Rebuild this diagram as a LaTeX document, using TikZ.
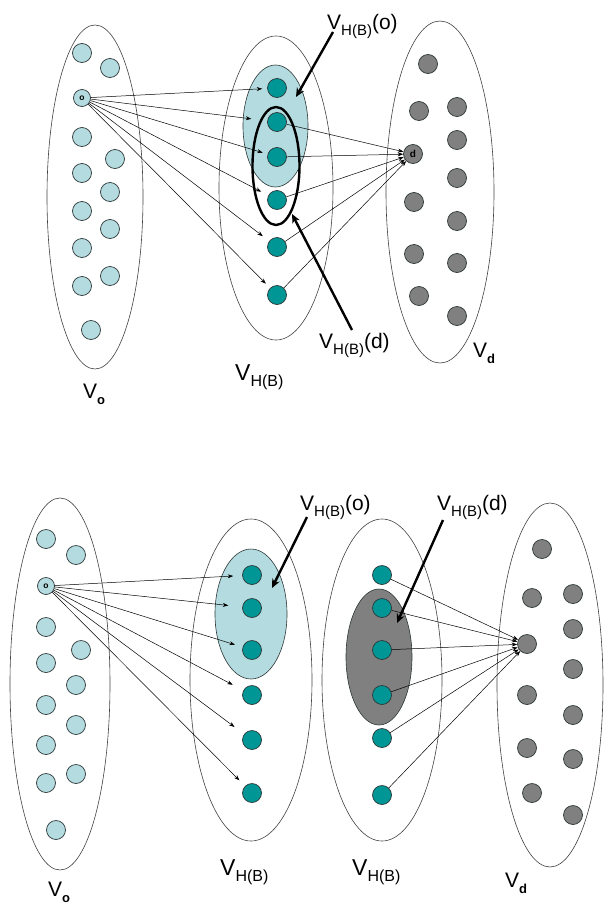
\documentclass[tikz,border=0pt]{standalone}
\usepackage{fontspec}
\setmainfont{Liberation Sans}
\usetikzlibrary{shapes.geometric,arrows.meta}
\definecolor{lb}{RGB}{180,220,224}
\definecolor{tl}{RGB}{0,150,150}
\definecolor{gr}{RGB}{128,128,128}
\definecolor{bd}{RGB}{45,55,55}
\newcommand{\hbsub}[1]{\raisebox{-0.3em}{\fontsize{#1}{#1}\selectfont H(B)}}
\newcommand{\smallsub}[1]{\raisebox{-0.3em}{\fontsize{13}{13}\selectfont\bfseries #1}}
\begin{document}
\begin{tikzpicture}[x=1pt,y=-1pt,
 ell/.style={ellipse,draw=black!75,line width=0.6pt,inner sep=0pt},
 vo/.style={circle,fill=lb,draw=bd,line width=0.7pt,minimum size=19pt,inner sep=0pt},
 vh/.style={vo,fill=tl},
 vd/.style={vo,fill=gr},
 arr/.style={line width=0.5pt,-{Stealth[length=5.5pt,width=4pt]}},
 ptr/.style={line width=2.4pt,-{Stealth[length=9pt,width=8pt]}},
 lab/.style={inner sep=0pt,anchor=base west,font=\fontsize{21}{21}\selectfont},
 labb/.style={lab,font=\fontsize{23}{23}\selectfont},
 tiny/.style={font=\fontsize{8.5}{8.5}\selectfont\bfseries},
]
\useasboundingbox (0,0) rectangle (605,910);
% ================= TOP =================
\node[ell,minimum width=96pt,minimum height=344pt] (VoT) at (95,197) {};
\node[ell,minimum width=114pt,minimum height=304pt] (VhT) at (276,188) {};
\node[ellipse,fill=lb,draw=bd,line width=0.6pt,inner sep=0pt,minimum width=65pt,minimum height=122pt] (LbT) at (275.5,126) {};
\node[ell,minimum width=108pt,minimum height=342pt] (VdT) at (440,192) {};
% Vo nodes
\node[vo] (a1) at (82,53) {};
\node[vo] (a2) at (110,68) {};
\node[vo,minimum size=17pt,tiny] (o) at (82,98) {o};
\node[vo] (a3) at (82,137) {};
\node[vo] (a4) at (115,159) {};
\node[vo] (a5) at (82,173) {};
\node[vo] (a6) at (110,192) {};
\node[vo] (a7) at (82,211) {};
\node[vo] (a8) at (110,229) {};
\node[vo] (a9) at (82,248) {};
\node[vo] (a10) at (110,276) {};
\node[vo] (a11) at (82,286) {};
\node[vo] (a12) at (91,330) {};
% teal nodes
\node[vh] (h1) at (277,88) {};
\node[vh] (h2) at (277,122) {};
\node[vh] (h3) at (277,157) {};
\node[vh] (h4) at (277,200) {};
\node[vh] (h5) at (277,247) {};
\node[vh] (h6) at (277,295) {};
% thick ellipse
\node[ellipse,draw=black,line width=2.4pt,inner sep=0pt,minimum width=47pt,minimum height=118pt] (ThT) at (276,166) {};
% gray nodes
\node[vd] (g1) at (428,64) {};
\node[vd] (g2) at (419,111) {};
\node[vd] (g3) at (457,107) {};
\node[vd,font=\fontsize{10}{10}\selectfont\bfseries] (d) at (413,154) {d};
\node[vd] (g4) at (457,140) {};
\node[vd] (g5) at (457,178) {};
\node[vd] (g6) at (414,202) {};
\node[vd] (g7) at (457,221) {};
\node[vd] (g8) at (414,254) {};
\node[vd] (g9) at (457,263) {};
\node[vd] (g10) at (419,296) {};
\node[vd] (g11) at (457,316) {};
% arrows o -> teal
\draw[arr,shorten >=5pt] (o) -- (h1);
\draw[arr,shorten >=16pt] (o) -- (h2);
\draw[arr,shorten >=5pt] (o) -- (h3);
\draw[arr,shorten >=8pt] (o) -- (h4);
\draw[arr,shorten >=8pt] (o) -- (h5);
\draw[arr,shorten >=6pt] (o) -- (h6);
% arrows teal -> d
\foreach \n in {h2,h3,h4,h5,h6} \draw[arr] (\n) -- (d);
% pointers
\coordinate (pT1s) at (333,32);
\coordinate (pT1e) at (296,97);
\coordinate (pT2s) at (352,330);
\coordinate (pT2e) at (292,214);
\draw[ptr] (pT1s) -- (pT1e);
\draw[ptr] (pT2s) -- (pT2e);
% labels
\node[lab] (lT1) at (327,29) {V\hbsub{15}(o)};
\node[lab] (lT2) at (319,348) {V\hbsub{15}(d)};
\node[labb] (lT3) at (235,380) {V\hbsub{16}};
\node[lab] (lT4) at (83,398) {V\smallsub{o}};
\node[lab] (lT5) at (473,357) {V\smallsub{d}};
% ================= BOTTOM =================
\node[ell,minimum width=100pt,minimum height=372pt] (VoB) at (60,684) {};
\node[ell,minimum width=122pt,minimum height=322pt] (Vh1B) at (251,680) {};
\node[ellipse,fill=lb,draw=bd,line width=0.6pt,inner sep=0pt,minimum width=72pt,minimum height=130pt] (LbB) at (251,614) {};
\node[ell,minimum width=120pt,minimum height=322pt] (Vh2B) at (382,680) {};
\node[ellipse,fill=gr,draw=bd,line width=0.6pt,inner sep=0pt,minimum width=66pt,minimum height=136pt] (GrB) at (379,657) {};
\node[ell,minimum width=106pt,minimum height=364pt] (VdB) at (550,685) {};
% Vo nodes
\node[vo] (b1) at (46,539) {};
\node[vo] (b2) at (76,555) {};
\node[vo,minimum size=17pt,tiny] (ob) at (46,586) {o};
\node[vo] (b3) at (46,627) {};
\node[vo] (b4) at (81,650) {};
\node[vo] (b5) at (46,663) {};
\node[vo] (b6) at (76,685) {};
\node[vo] (b7) at (46,705) {};
\node[vo] (b8) at (76,725) {};
\node[vo] (b9) at (46,745) {};
\node[vo] (b10) at (76,774) {};
\node[vo] (b11) at (46,783) {};
\node[vo] (b12) at (56,830) {};
% teal set 1
\node[vh] (k1) at (252,575) {};
\node[vh] (k2) at (252,608) {};
\node[vh] (k3) at (252,650) {};
\node[vh] (k4) at (252,695) {};
\node[vh] (k5) at (252,740) {};
\node[vh] (k6) at (252,793) {};
% teal set 2
\node[vh] (m1) at (382,575) {};
\node[vh] (m2) at (382,608) {};
\node[vh] (m3) at (382,650) {};
\node[vh] (m4) at (382,695) {};
\node[vh] (m5) at (382,738) {};
\node[vh] (m6) at (382,795) {};
% gray nodes
\node[vd] (q1) at (542,549) {};
\node[vd] (q2) at (532,598) {};
\node[vd] (q3) at (573,594) {};
\node[vd] (db) at (527,644) {};
\node[vd] (q4) at (573,629) {};
\node[vd] (q5) at (573,669) {};
\node[vd] (q6) at (527,695) {};
\node[vd] (q7) at (573,715) {};
\node[vd] (q8) at (527,748) {};
\node[vd] (q9) at (573,759) {};
\node[vd] (q10) at (532,793) {};
\node[vd] (q11) at (573,815) {};
% arrows
\draw[arr,shorten >=9pt] (ob) -- (k1);
\draw[arr,shorten >=14pt] (ob) -- (k2);
\draw[arr,shorten >=8pt] (ob) -- (k3);
\draw[arr,shorten >=12pt] (ob) -- (k4);
\draw[arr,shorten >=12pt] (ob) -- (k5);
\draw[arr,shorten >=8pt] (ob) -- (k6);
\foreach \n in {m1,m2,m3,m4,m5,m6} \draw[arr] (\n) -- (db);
% pointers
\coordinate (pB1s) at (307,517);
\coordinate (pB1e) at (272,588);
\coordinate (pB2s) at (443,520);
\coordinate (pB2e) at (397,623);
\draw[ptr] (pB1s) -- (pB1e);
\draw[ptr] (pB2s) -- (pB2e);
% labels
\node[lab] (lB1) at (300,510) {V\hbsub{15}(o)};
\node[lab] (lB2) at (437,510) {V\hbsub{15}(d)};
\node[labb] (lB3) at (220,875) {V\hbsub{16}};
\node[labb] (lB4) at (352,875) {V\hbsub{16}};
\node[lab] (lB5) at (48,896) {V\smallsub{o}};
\node[lab] (lB6) at (505,887) {V\smallsub{d}};
\end{tikzpicture}
\end{document}
